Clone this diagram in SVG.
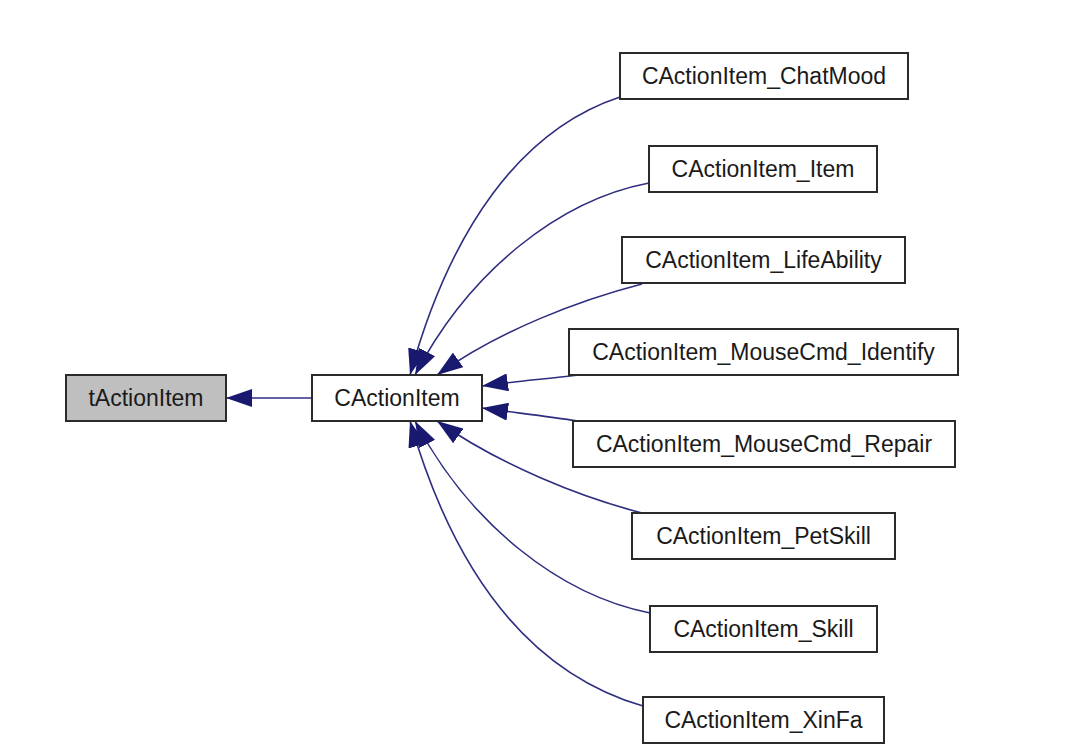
<svg xmlns="http://www.w3.org/2000/svg" width="1068" height="751" viewBox="0 0 1068 751">
<style>
.box{fill:#ffffff;stroke:#2b2b2b;stroke-width:2}
.base{fill:#bfbfbf}
.lbl{font-family:"Liberation Sans",Arial,sans-serif;font-size:23px;fill:#1a1a1a;text-anchor:middle}
.edge{fill:none;stroke:#2e2e80;stroke-width:1.6;marker-end:url(#ah)}
</style>
<defs>
<marker id="ah" markerUnits="userSpaceOnUse" markerWidth="26" markerHeight="18" viewBox="0 0 26 18" refX="26" refY="9" orient="auto">
<path d="M0,0 L26,9 L0,18 z" fill="#191970"/>
</marker>
</defs>
<rect width="1068" height="751" fill="#ffffff"/>
<g id="connectors">
<path class="edge" d="M312,398 L226,398"/>
<path class="edge" d="M620,97 C520,130 450,230 410,375"/>
<path class="edge" d="M649,183 C560,200 470,270 415,375"/>
<path class="edge" d="M642,284 C580,300 500,330 437,375"/>
<path class="edge" d="M578,375 C545,379 510,382 482,386"/>
<path class="edge" d="M578,421 C545,416 510,412 482,408"/>
<path class="edge" d="M642,513 C580,497 500,465 437,421"/>
<path class="edge" d="M650,613 C560,595 470,525 415,421"/>
<path class="edge" d="M643,706 C520,670 450,560 410,421"/>
</g>
<g id="tActionItem"><rect class="box base" x="66" y="375" width="160" height="46"/><text class="lbl" x="146" y="406">tActionItem</text></g>
<g id="CActionItem"><rect class="box" x="312" y="375" width="170" height="46"/><text class="lbl" x="397" y="406">CActionItem</text></g>
<g id="CActionItem_ChatMood"><rect class="box" x="620" y="53" width="288" height="46"/><text class="lbl" x="764" y="84">CActionItem_ChatMood</text></g>
<g id="CActionItem_Item"><rect class="box" x="649" y="146" width="228" height="46"/><text class="lbl" x="763" y="177">CActionItem_Item</text></g>
<g id="CActionItem_LifeAbility"><rect class="box" x="622" y="237" width="283" height="46"/><text class="lbl" x="763.5" y="268">CActionItem_LifeAbility</text></g>
<g id="CActionItem_MouseCmd_Identify"><rect class="box" x="569" y="329" width="389" height="46"/><text class="lbl" x="763.5" y="360">CActionItem_MouseCmd_Identify</text></g>
<g id="CActionItem_MouseCmd_Repair"><rect class="box" x="573" y="421" width="382" height="46"/><text class="lbl" x="764" y="452">CActionItem_MouseCmd_Repair</text></g>
<g id="CActionItem_PetSkill"><rect class="box" x="632" y="513" width="263" height="46"/><text class="lbl" x="763.5" y="544">CActionItem_PetSkill</text></g>
<g id="CActionItem_Skill"><rect class="box" x="650" y="606" width="227" height="46"/><text class="lbl" x="763.5" y="637">CActionItem_Skill</text></g>
<g id="CActionItem_XinFa"><rect class="box" x="643" y="697" width="241" height="46"/><text class="lbl" x="763.5" y="728">CActionItem_XinFa</text></g>
</svg>
